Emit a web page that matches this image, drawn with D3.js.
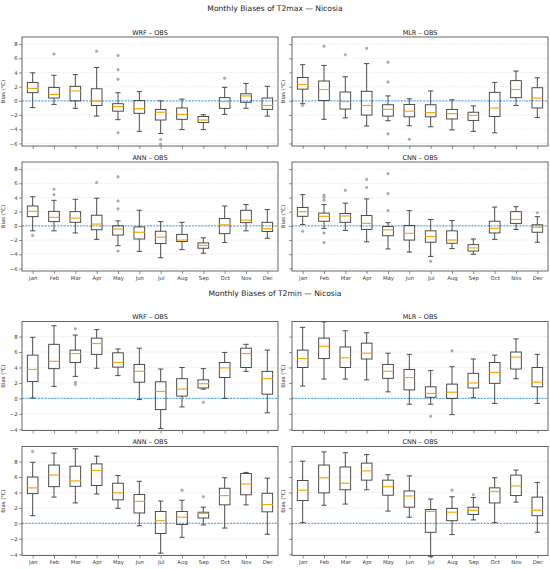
<!DOCTYPE html>
<html>
<head>
<meta charset="utf-8">
<script src="https://cdn.jsdelivr.net/npm/d3@7"></script>
<style>
  body { margin: 0; background: #fff; }
  svg { font-family: "DejaVu Sans", sans-serif; }
</style>
</head>
<body>
<div id="chart"></div>
<script>
const months = ["Jan", "Feb", "Mar", "Apr", "May", "Jun", "Jul", "Aug", "Sep", "Oct", "Nov", "Dec"];

// each box: [low whisker, q1, median, q3, high whisker]
const tmaxWRF = [
    [-0.95, 1.15, 1.75, 2.6, 3.95], [-0.5, 0.4, 0.9, 1.9, 3.6], [-1.05, 0.0, 1.4, 2.05, 3.7],
    [-2.15, -0.65, 0.0, 1.7, 4.7], [-2.65, -1.45, -0.8, -0.4, 1.15], [-4.3, -1.75, -1.1, 0.05, 1.3],
    [-4.6, -2.7, -1.6, -1.2, 0.0], [-4.05, -2.6, -1.9, -1.0, 0.25], [-4.05, -3.05, -2.7, -2.2, -1.95],
    [-1.9, -1.05, -0.1, 0.45, 1.9], [-1.05, -0.2, 0.7, 1.0, 2.45], [-2.15, -1.2, -0.65, 0.4, 2.05]
];
const tmaxWRFOut = [[2, 6.6], [4, 7.0], [5, 6.4], [5, 4.4], [5, 3.05], [5, -4.5], [7, -5.45], [7, -6.1], [10, 3.2]];

const tmaxMLR = [
    [-0.4, 1.65, 2.3, 3.3, 5.1], [-2.6, 0.05, 1.6, 2.8, 5.0], [-2.4, -1.15, -0.1, 1.25, 3.4],
    [-3.55, -2.0, -0.65, 1.35, 5.25], [-2.8, -2.15, -1.2, -0.55, 0.7], [-3.5, -2.25, -1.45, -0.5, 0.3],
    [-3.65, -2.25, -1.65, -0.55, 1.4], [-4.1, -2.55, -1.8, -1.2, 0.15], [-4.3, -2.75, -2.05, -1.6, -0.7],
    [-4.5, -2.2, -1.0, 1.2, 2.6], [-0.65, 0.45, 1.6, 2.85, 4.2], [-2.35, -1.0, 0.4, 1.85, 3.25]
];
const tmaxMLROut = [[1, -0.65], [2, 7.7], [3, 6.5], [4, 7.4], [5, 2.65], [5, 5.45], [5, -4.65], [6, -5.4]];

const tmaxANN = [
    [-0.7, 1.3, 2.05, 2.8, 4.1], [-0.7, 0.6, 1.2, 2.05, 3.6], [-1.0, 0.5, 1.1, 2.0, 3.75],
    [-1.9, -0.55, 0.25, 1.5, 3.9], [-2.8, -1.3, -0.45, 0.0, 0.7], [-3.6, -1.85, -0.9, -0.15, 2.2],
    [-4.5, -2.5, -1.6, -0.75, 0.6], [-3.35, -2.2, -2.0, -1.2, 0.5], [-3.85, -3.15, -2.75, -2.4, -1.7],
    [-2.35, -1.1, 0.15, 1.05, 2.8], [-0.7, 0.45, 0.8, 2.2, 3.0], [-1.75, -0.8, -0.4, 0.5, 2.3]
];
const tmaxANNOut = [[1, -1.35], [2, 4.4], [2, 5.15], [4, 6.1], [5, 2.4], [5, 3.5], [5, 6.9], [5, -3.55]];

const tmaxCNN = [
    [0.2, 1.35, 2.0, 2.6, 4.4], [-0.35, 0.65, 1.35, 1.8, 3.0], [-0.65, 0.5, 1.4, 1.75, 3.2],
    [-2.25, -0.5, 0.35, 1.45, 3.8], [-3.25, -1.4, -0.55, -0.1, 0.45], [-3.7, -2.0, -1.05, 0.05, 2.15],
    [-4.3, -2.3, -1.5, -0.7, 0.9], [-3.2, -2.45, -2.0, -0.7, 0.75], [-4.0, -3.55, -3.1, -2.65, -1.85],
    [-1.9, -1.0, -0.35, 0.65, 2.65], [-0.5, 0.35, 0.9, 2.0, 2.7], [-2.3, -0.9, -0.2, 0.15, 1.3]
];
const tmaxCNNOut = [[1, -0.75], [2, 4.3], [2, 4.0], [2, 3.6], [2, -1.0], [2, -2.35], [3, 5.0], [4, 6.55], [4, 5.4],
    [5, 2.15], [5, 4.55], [5, 7.35], [7, -5.0], [12, 1.85]];

const tminWRF = [
    [0.05, 2.2, 3.75, 5.6, 7.9], [1.55, 3.85, 4.8, 7.0, 9.4], [2.85, 4.65, 5.8, 6.25, 8.2],
    [3.9, 5.7, 7.1, 7.8, 8.9], [2.95, 4.05, 4.65, 5.9, 6.4], [-0.15, 2.1, 3.5, 4.4, 6.5],
    [-3.9, -1.45, 0.9, 2.15, 3.8], [-1.1, 0.3, 1.2, 2.55, 4.0], [1.2, 1.35, 1.9, 2.4, 3.85],
    [0.0, 2.7, 3.95, 4.65, 5.95], [3.5, 4.0, 5.8, 6.5, 7.0], [-1.85, 0.55, 2.55, 3.5, 6.25]
];
const tminWRFOut = [[3, 9.0], [3, 2.1], [3, 1.8], [9, -0.5]];

const tminMLR = [
    [1.6, 4.0, 5.15, 6.25, 9.2], [2.5, 5.15, 6.75, 7.8, 9.9], [2.5, 4.0, 5.25, 6.65, 8.75],
    [2.4, 5.1, 5.85, 7.15, 8.5], [0.85, 2.6, 3.5, 4.4, 5.85], [-0.75, 1.1, 2.7, 3.75, 5.7],
    [-0.75, 0.15, 0.65, 1.5, 3.6], [-2.1, 0.0, 0.8, 1.85, 4.1], [0.1, 1.35, 2.0, 3.25, 5.1],
    [-0.65, 1.95, 3.35, 4.65, 5.6], [2.55, 3.8, 5.35, 6.0, 7.7], [-0.65, 1.5, 2.1, 4.0, 5.7]
];
const tminMLROut = [[7, -2.3], [8, 6.15]];

const tminANN = [
    [1.0, 3.85, 4.6, 6.0, 7.9], [3.4, 4.75, 6.25, 7.55, 9.1], [2.65, 4.8, 5.5, 7.4, 9.65],
    [3.8, 4.9, 6.85, 7.7, 8.7], [1.95, 3.05, 3.95, 5.2, 6.2], [-0.3, 1.35, 2.85, 3.75, 5.45],
    [-3.85, -1.3, 0.35, 1.55, 2.9], [-1.8, -0.15, 0.8, 1.55, 3.0], [-0.2, 0.7, 1.3, 1.45, 2.1],
    [-0.6, 2.4, 3.6, 4.55, 5.9], [2.4, 3.7, 5.1, 6.45, 6.6], [-1.4, 1.5, 2.45, 3.9, 5.85]
];
const tminANNOut = [[1, 9.3], [8, 4.3], [9, 3.45]];

const tminCNN = [
    [0.1, 2.95, 4.3, 5.55, 8.05], [2.35, 3.95, 5.9, 7.55, 9.25], [2.5, 4.35, 5.2, 7.3, 9.15],
    [4.35, 5.6, 6.8, 7.8, 8.9], [1.6, 3.65, 4.75, 5.6, 6.3], [0.8, 2.1, 3.55, 4.2, 6.15],
    [-4.3, -1.15, 1.55, 1.8, 3.15], [-1.45, 0.35, 1.45, 1.95, 3.45], [0.45, 1.15, 1.7, 2.1, 3.35],
    [0.1, 2.65, 4.15, 4.6, 5.9], [2.75, 3.6, 4.85, 6.25, 6.9], [-1.15, 1.0, 1.7, 3.4, 5.3]
];
const tminCNNOut = [[8, 4.3], [9, 3.7]];

const tmaxTicks = [-6, -4, -2, 0, 2, 4, 6, 8];
const tminTicks = [-4, -2, 0, 2, 4, 6, 8];

const figures = [
    {
        title: "Monthly Biases of T2max \u2014 Nicosia", top: 0, domain: [-6.36, 9.0], ticks: tmaxTicks,
        panels: [
            { name: "WRF \u2013 OBS", boxes: tmaxWRF, outliers: tmaxWRFOut },
            { name: "MLR \u2013 OBS", boxes: tmaxMLR, outliers: tmaxMLROut },
            { name: "ANN \u2013 OBS", boxes: tmaxANN, outliers: tmaxANNOut },
            { name: "CNN \u2013 OBS", boxes: tmaxCNN, outliers: tmaxCNNOut }
        ]
    },
    {
        title: "Monthly Biases of T2min \u2014 Nicosia", top: 284.5, domain: [-4.15, 9.95], ticks: tminTicks,
        panels: [
            { name: "WRF \u2013 OBS", boxes: tminWRF, outliers: tminWRFOut },
            { name: "MLR \u2013 OBS", boxes: tminMLR, outliers: tminMLROut },
            { name: "ANN \u2013 OBS", boxes: tminANN, outliers: tminANNOut },
            { name: "CNN \u2013 OBS", boxes: tminCNN, outliers: tminCNNOut }
        ]
    }
];

const W = 550, H = 569;
const colX = [22, 292];
const rowY = [37, 162];
const pw = 256, ph = 109;

const svg = d3.select("#chart").append("svg")
    .attr("width", W)
    .attr("height", H);

const minus = d => d < 0 ? "\u2212" + Math.abs(d) : String(d);

figures.forEach(fig => {
    const F = svg.append("g").attr("transform", `translate(0,${fig.top})`);

    F.append("text")
        .attr("x", W / 2)
        .attr("y", 11)
        .attr("text-anchor", "middle")
        .style("font-size", "7.6px")
        .attr("fill", "#222")
        .text(fig.title);

    fig.panels.forEach((p, i) => {
        const col = i % 2, row = Math.floor(i / 2);
        drawPanel(F, p, fig, colX[col], rowY[row], col === 0, row === 1);
    });
});

function drawPanel(parent, p, fig, left, top, showY, showX) {
    const x = d3.scaleLinear().domain([0.5, 12.5]).range([0, pw]);
    const y = d3.scaleLinear().domain(fig.domain).range([ph, 0]);

    const g = parent.append("g").attr("transform", `translate(${left},${top})`);

    g.append("text")
        .attr("x", pw / 2)
        .attr("y", -2.5)
        .attr("text-anchor", "middle")
        .style("font-size", "6.5px")
        .attr("fill", "#222")
        .text(p.name);

    // grid
    g.selectAll(".grid")
        .data(fig.ticks)
        .join("line")
        .attr("x1", 0).attr("x2", pw)
        .attr("y1", d => y(d)).attr("y2", d => y(d))
        .attr("stroke", "#cfcfcf")
        .attr("stroke-width", 0.6)
        .attr("stroke-dasharray", "1,1.4");

    g.append("line")
        .attr("x1", 0).attr("x2", pw)
        .attr("y1", y(0)).attr("y2", y(0))
        .attr("stroke", "#5aaaf2")
        .attr("stroke-width", 1.1)
        .attr("stroke-dasharray", "2,1.2");

    const yAxis = g.append("g")
        .call(d3.axisLeft(y).tickValues(fig.ticks).tickSize(3).tickPadding(1.5)
            .tickFormat(showY ? minus : ""));
    const xAxis = g.append("g")
        .attr("transform", `translate(0,${ph})`)
        .call(d3.axisBottom(x).tickValues(d3.range(1, 13)).tickSize(3).tickPadding(2)
            .tickFormat(showX ? (d => months[d - 1]) : ""));
    [yAxis, xAxis].forEach(a => {
        a.select(".domain").remove();
        a.selectAll("line").attr("stroke", "#444").attr("stroke-width", 0.6);
        a.selectAll("text").style("font-size", "5.3px").attr("fill", "#333").attr("font-family", "DejaVu Sans");
    });

    g.append("text")
        .attr("transform", `translate(${showY ? -17 : -7},${ph / 2}) rotate(-90)`)
        .attr("text-anchor", "middle")
        .style("font-size", "5.3px")
        .attr("fill", "#333")
        .text("Bias (\u00b0C)");

    const bw = x(1.25) - x(0.75);
    const cw = x(1.125) - x(0.875);
    const stroke = "#3a3a3a";

    const boxes = g.selectAll(".box")
        .data(p.boxes)
        .join("g")
        .attr("transform", (d, i) => `translate(${x(i + 1)},0)`);

    boxes.append("line")
        .attr("y1", d => y(d[0])).attr("y2", d => y(d[1]))
        .attr("stroke", stroke).attr("stroke-width", 0.9);
    boxes.append("line")
        .attr("y1", d => y(d[3])).attr("y2", d => y(d[4]))
        .attr("stroke", stroke).attr("stroke-width", 0.9);
    boxes.append("line")
        .attr("x1", -cw / 2).attr("x2", cw / 2)
        .attr("y1", d => y(d[0])).attr("y2", d => y(d[0]))
        .attr("stroke", stroke).attr("stroke-width", 0.9);
    boxes.append("line")
        .attr("x1", -cw / 2).attr("x2", cw / 2)
        .attr("y1", d => y(d[4])).attr("y2", d => y(d[4]))
        .attr("stroke", stroke).attr("stroke-width", 0.9);
    boxes.append("rect")
        .attr("x", -bw / 2)
        .attr("width", bw)
        .attr("y", d => y(d[3]))
        .attr("height", d => y(d[1]) - y(d[3]))
        .attr("fill", "none")
        .attr("stroke", stroke)
        .attr("stroke-width", 0.9);
    boxes.append("line")
        .attr("x1", -bw / 2).attr("x2", bw / 2)
        .attr("y1", d => y(d[2])).attr("y2", d => y(d[2]))
        .attr("stroke", "#ffa500")
        .attr("stroke-width", 1.2);

    g.selectAll(".out")
        .data(p.outliers)
        .join("circle")
        .attr("cx", d => x(d[0]))
        .attr("cy", d => y(d[1]))
        .attr("r", 1.3)
        .attr("fill", "#b0b0b0")
        .attr("stroke", "#909090")
        .attr("stroke-width", 0.4);

    g.append("rect")
        .attr("width", pw)
        .attr("height", ph)
        .attr("fill", "none")
        .attr("stroke", "#555")
        .attr("stroke-width", 0.9);
}
</script>
</body>
</html>
